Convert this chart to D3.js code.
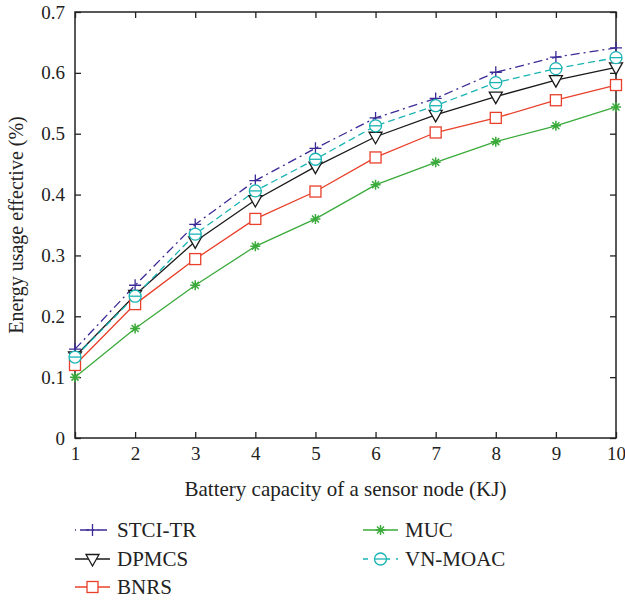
<!DOCTYPE html>
<html><head><meta charset="utf-8">
<script src="https://cdn.jsdelivr.net/npm/d3@7"></script>
<style>body{margin:0;background:#fff}svg{display:block}text{font-family:"Liberation Serif","Times New Roman","DejaVu Serif",serif;fill:#222}</style>
</head><body><svg id="c" width="625" height="601"></svg>
<script>
const xValues = [1,2,3,4,5,6,7,8,9,10];
const stciTR = [0.146,0.251,0.351,0.423,0.476,0.526,0.558,0.601,0.626,0.641];
const dpmcs  = [0.134,0.235,0.323,0.391,0.446,0.495,0.531,0.561,0.588,0.609];
const bnrs   = [0.120,0.220,0.294,0.360,0.405,0.461,0.502,0.526,0.555,0.580];
const muc    = [0.100,0.180,0.251,0.315,0.360,0.416,0.453,0.487,0.513,0.544];
const vnMoac = [0.133,0.233,0.335,0.406,0.458,0.513,0.546,0.584,0.607,0.625];
const yTicks = [0,0.1,0.2,0.3,0.4,0.5,0.6,0.7];
const seriesNames = ["STCI-TR","DPMCS","BNRS","MUC","VN-MOAC"];

const series = [
  {name:"STCI-TR", v:stciTR, color:"#3b2a96", dash:"9,4,2,4", marker:"plus"},
  {name:"DPMCS", v:dpmcs, color:"#1a1a1a", dash:null, marker:"tri"},
  {name:"BNRS", v:bnrs, color:"#e8402a", dash:null, marker:"square"},
  {name:"MUC", v:muc, color:"#3aaa3a", dash:null, marker:"star"},
  {name:"VN-MOAC", v:vnMoac, color:"#1ab4b4", dash:"7,4", marker:"circle"}
];

const FONT = "'Liberation Serif','Times New Roman','DejaVu Serif',serif";
const svg = d3.select("#c");
const L=75, R=616, T=12, B=438;
const x = d3.scaleLinear().domain([1,10]).range([L,R]);
const y = d3.scaleLinear().domain([0,0.7]).range([B,T]);
const yfmt = d => d===0 ? "0" : d3.format(".1f")(d);

svg.append("rect").attr("x",L).attr("y",T).attr("width",R-L).attr("height",B-T)
  .attr("fill","none").attr("stroke","#222").attr("stroke-width",1.5);

const axStyle = g => { g.select(".domain").remove(); g.selectAll(".tick line").attr("stroke","#222").attr("stroke-width",1.3);
  g.selectAll("text").style("font-family",FONT).style("font-size","19px").attr("fill","#222"); };

svg.append("g").attr("transform",`translate(0,${B})`)
  .call(d3.axisBottom(x).tickValues(xValues).tickSize(-6).tickPadding(9).tickFormat(d3.format("d"))).call(axStyle);
svg.append("g").attr("transform",`translate(0,${T})`)
  .call(d3.axisTop(x).tickValues(xValues).tickSize(-6).tickFormat("")).call(axStyle);
svg.append("g").attr("transform",`translate(${L},0)`)
  .call(d3.axisLeft(y).tickValues(yTicks).tickSize(-6).tickPadding(10).tickFormat(yfmt)).call(axStyle);
svg.append("g").attr("transform",`translate(${R},0)`)
  .call(d3.axisRight(y).tickValues(yTicks).tickSize(-6).tickFormat("")).call(axStyle);

svg.append("text").attr("x",(L+R)/2).attr("y",496).attr("text-anchor","middle").style("font-family",FONT).style("font-size","21px")
  .text("Battery capacity of a sensor node (KJ)");
svg.append("text").attr("transform",`translate(23,${(T+B)/2}) rotate(-90)`).attr("text-anchor","middle").style("font-family",FONT).style("font-size","20px")
  .text("Energy usage effective (%)");

function drawMarker(g, type, cx, cy, color){
  const s = g.append("g").attr("transform",`translate(${cx},${cy})`).attr("stroke",color).attr("fill","none").attr("stroke-width",1.3);
  if(type==="plus"){ s.append("path").attr("d","M-6,0H6M0,-6V6"); }
  else if(type==="tri"){ s.append("path").attr("d","M-6.5,-4.5L6.5,-4.5L0,7Z").attr("fill","#fff"); }
  else if(type==="square"){ s.append("rect").attr("x",-5.5).attr("y",-5.5).attr("width",11).attr("height",11).attr("fill","#fff"); }
  else if(type==="circle"){ s.append("circle").attr("r",6).attr("fill","#fff"); s.append("path").attr("d","M-6,0H6"); }
  else if(type==="star"){ s.append("path").attr("d","M-5,0H5M0,-5V5M-3.5,-3.5L3.5,3.5M-3.5,3.5L3.5,-3.5").attr("stroke-width",1.5); }
}

const line = d3.line().x((d,i)=>x(xValues[i])).y(d=>y(d));
const plot = svg.append("g");
series.forEach(s=>{
  plot.append("path").datum(s.v).attr("d",line).attr("fill","none").attr("stroke",s.color)
    .attr("stroke-width",1.3).attr("stroke-dasharray",s.dash);
});
series.forEach(s=>{
  s.v.forEach((v,i)=>drawMarker(plot, s.marker, x(xValues[i]), y(v), s.color));
});

const legPos = [[75,530],[75,559],[75,587],[363,530],[363,559]];
seriesNames.forEach((n,k)=>{
  const s = series.find(d=>d.name===n);
  const [lx,ly] = legPos[k];
  svg.append("line").attr("x1",lx).attr("x2",lx+35).attr("y1",ly).attr("y2",ly)
    .attr("stroke",s.color).attr("stroke-width",1.3).attr("stroke-dasharray",s.dash ? (s.marker==="plus"?"1,4,9,4":"5,6") : null);
  drawMarker(svg, s.marker, lx+17.5, ly, s.color);
  svg.append("text").attr("x",lx+42).attr("y",ly+7).style("font-family",FONT).style("font-size","21px").text(n);
});
</script></body></html>
